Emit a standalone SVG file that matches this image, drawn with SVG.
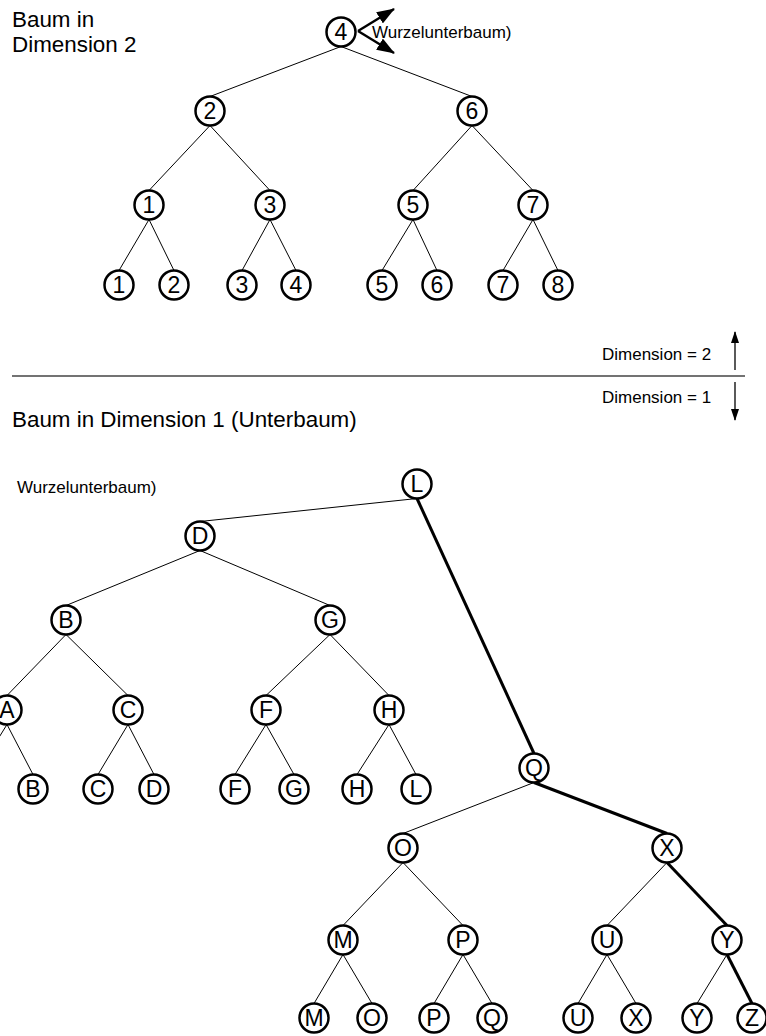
<svg xmlns="http://www.w3.org/2000/svg" width="766" height="1036" viewBox="0 0 766 1036">
  <defs>
    <style>
      .node circle { fill: #fff; stroke: #000; stroke-width: 2.5; }
      .node text { font-family: "Liberation Sans", Arial, sans-serif; font-size: 23px; text-anchor: middle; fill: #000; }
      .edge { stroke: #000; stroke-width: 1; fill: none; }
      .edge.bold { stroke-width: 3; }
      .label { font-family: "Liberation Sans", Arial, sans-serif; fill: #000; }
      .title { font-size: 22.4px; }
      .note { font-size: 17px; }
      .arrow { stroke: #000; fill: none; }
    </style>
    <marker id="headBig" viewBox="0 0 18 13" refX="17" refY="6.5" markerWidth="18" markerHeight="13" markerUnits="userSpaceOnUse" orient="auto">
      <path d="M0,0 L18,6.5 L0,13 Z" fill="#000"/>
    </marker>
    <marker id="headSmall" viewBox="0 0 12 8" refX="11" refY="4" markerWidth="12" markerHeight="8" markerUnits="userSpaceOnUse" orient="auto">
      <path d="M0,0 L12,4 L0,8 Z" fill="#000"/>
    </marker>
  </defs>

  <rect width="766" height="1036" fill="#fff"/>

  <!-- headings and notes -->
  <text class="label title" x="12" y="27">Baum in</text>
  <text class="label title" x="12" y="52">Dimension 2</text>
  <text class="label note" x="372" y="38">Wurzelunterbaum)</text>
  <text class="label note" x="602" y="360">Dimension = 2</text>
  <text class="label note" x="602" y="403">Dimension = 1</text>
  <text class="label title" x="12" y="427">Baum in Dimension 1 (Unterbaum)</text>
  <text class="label note" x="17" y="493">Wurzelunterbaum)</text>

  <!-- separator and direction arrows -->
  <line x1="12" y1="376" x2="745" y2="376" stroke="#444" stroke-width="1.3"/>
  <line class="arrow" x1="735" y1="370" x2="735" y2="332" stroke-width="1.3" marker-end="url(#headSmall)"/>
  <line class="arrow" x1="735" y1="382" x2="735" y2="420" stroke-width="1.3" marker-end="url(#headSmall)"/>

  <!-- root pointer arrows -->
  <line class="arrow" x1="358" y1="31" x2="394" y2="9" stroke-width="2.4" marker-end="url(#headBig)"/>
  <line class="arrow" x1="358" y1="31" x2="394" y2="53" stroke-width="2.4" marker-end="url(#headBig)"/>

  <g id="connectors">
    <!-- dimension 2 tree -->
    <line class="edge" x1="341" y1="46.5" x2="210" y2="96.5"/>
    <line class="edge" x1="341" y1="46.5" x2="472" y2="96.5"/>
    <line class="edge" x1="210" y1="125.5" x2="149" y2="190.5"/>
    <line class="edge" x1="210" y1="125.5" x2="270" y2="190.5"/>
    <line class="edge" x1="472" y1="125.5" x2="413" y2="190.5"/>
    <line class="edge" x1="472" y1="125.5" x2="533" y2="190.5"/>
    <line class="edge" x1="149" y1="219.5" x2="119" y2="270.5"/>
    <line class="edge" x1="149" y1="219.5" x2="174" y2="270.5"/>
    <line class="edge" x1="270" y1="219.5" x2="242" y2="270.5"/>
    <line class="edge" x1="270" y1="219.5" x2="296" y2="270.5"/>
    <line class="edge" x1="413" y1="219.5" x2="382" y2="270.5"/>
    <line class="edge" x1="413" y1="219.5" x2="437" y2="270.5"/>
    <line class="edge" x1="533" y1="219.5" x2="503" y2="270.5"/>
    <line class="edge" x1="533" y1="219.5" x2="558" y2="270.5"/>

    <!-- dimension 1 tree -->
    <line class="edge" x1="417" y1="498.5" x2="200" y2="521.5"/>
    <line class="edge bold" x1="417" y1="498.5" x2="534" y2="753.5"/>
    <line class="edge" x1="200" y1="550.5" x2="66" y2="605.5"/>
    <line class="edge" x1="200" y1="550.5" x2="330" y2="605.5"/>
    <line class="edge" x1="66" y1="634.5" x2="7" y2="695.5"/>
    <line class="edge" x1="66" y1="634.5" x2="128" y2="695.5"/>
    <line class="edge" x1="330" y1="634.5" x2="266" y2="695.5"/>
    <line class="edge" x1="330" y1="634.5" x2="389" y2="695.5"/>
    <line class="edge" x1="7" y1="724.5" x2="-24" y2="774.5"/>
    <line class="edge" x1="7" y1="724.5" x2="33" y2="774.5"/>
    <line class="edge" x1="128" y1="724.5" x2="98" y2="774.5"/>
    <line class="edge" x1="128" y1="724.5" x2="154" y2="774.5"/>
    <line class="edge" x1="266" y1="724.5" x2="235" y2="774.5"/>
    <line class="edge" x1="266" y1="724.5" x2="294" y2="774.5"/>
    <line class="edge" x1="389" y1="724.5" x2="357" y2="774.5"/>
    <line class="edge" x1="389" y1="724.5" x2="416" y2="774.5"/>
    <line class="edge" x1="534" y1="782.5" x2="403" y2="833.5"/>
    <line class="edge bold" x1="534" y1="782.5" x2="667" y2="833.5"/>
    <line class="edge" x1="403" y1="862.5" x2="343" y2="925.5"/>
    <line class="edge" x1="403" y1="862.5" x2="463" y2="925.5"/>
    <line class="edge" x1="667" y1="862.5" x2="607" y2="925.5"/>
    <line class="edge bold" x1="667" y1="862.5" x2="727" y2="925.5"/>
    <line class="edge" x1="343" y1="954.5" x2="314" y2="1003.5"/>
    <line class="edge" x1="343" y1="954.5" x2="372" y2="1003.5"/>
    <line class="edge" x1="463" y1="954.5" x2="434" y2="1003.5"/>
    <line class="edge" x1="463" y1="954.5" x2="492" y2="1003.5"/>
    <line class="edge" x1="607" y1="954.5" x2="578" y2="1003.5"/>
    <line class="edge" x1="607" y1="954.5" x2="636" y2="1003.5"/>
    <line class="edge" x1="727" y1="954.5" x2="697" y2="1003.5"/>
    <line class="edge bold" x1="727" y1="954.5" x2="752" y2="1003.5"/>
  </g>

  <!-- dimension 2 tree nodes -->
  <g id="t4" class="node"><circle cx="341" cy="32" r="14.5"/><text x="341" y="40">4</text></g>
  <g id="t2" class="node"><circle cx="210" cy="111" r="14.5"/><text x="210" y="119">2</text></g>
  <g id="t6" class="node"><circle cx="472" cy="111" r="14.5"/><text x="472" y="119">6</text></g>
  <g id="t1" class="node"><circle cx="149" cy="205" r="14.5"/><text x="149" y="213">1</text></g>
  <g id="t3" class="node"><circle cx="270" cy="205" r="14.5"/><text x="270" y="213">3</text></g>
  <g id="t5" class="node"><circle cx="413" cy="205" r="14.5"/><text x="413" y="213">5</text></g>
  <g id="t7" class="node"><circle cx="533" cy="205" r="14.5"/><text x="533" y="213">7</text></g>
  <g id="tl1" class="node"><circle cx="119" cy="285" r="14.5"/><text x="119" y="293">1</text></g>
  <g id="tl2" class="node"><circle cx="174" cy="285" r="14.5"/><text x="174" y="293">2</text></g>
  <g id="tl3" class="node"><circle cx="242" cy="285" r="14.5"/><text x="242" y="293">3</text></g>
  <g id="tl4" class="node"><circle cx="296" cy="285" r="14.5"/><text x="296" y="293">4</text></g>
  <g id="tl5" class="node"><circle cx="382" cy="285" r="14.5"/><text x="382" y="293">5</text></g>
  <g id="tl6" class="node"><circle cx="437" cy="285" r="14.5"/><text x="437" y="293">6</text></g>
  <g id="tl7" class="node"><circle cx="503" cy="285" r="14.5"/><text x="503" y="293">7</text></g>
  <g id="tl8" class="node"><circle cx="558" cy="285" r="14.5"/><text x="558" y="293">8</text></g>

  <!-- dimension 1 tree nodes -->
  <g id="bL" class="node"><circle cx="417" cy="484" r="14.5"/><text x="417" y="492">L</text></g>
  <g id="bD" class="node"><circle cx="200" cy="536" r="14.5"/><text x="200" y="544">D</text></g>
  <g id="bB" class="node"><circle cx="66" cy="620" r="14.5"/><text x="66" y="628">B</text></g>
  <g id="bG" class="node"><circle cx="330" cy="620" r="14.5"/><text x="330" y="628">G</text></g>
  <g id="bA" class="node"><circle cx="7" cy="710" r="14.5"/><text x="7" y="718">A</text></g>
  <g id="bC" class="node"><circle cx="128" cy="710" r="14.5"/><text x="128" y="718">C</text></g>
  <g id="bF" class="node"><circle cx="266" cy="710" r="14.5"/><text x="266" y="718">F</text></g>
  <g id="bH" class="node"><circle cx="389" cy="710" r="14.5"/><text x="389" y="718">H</text></g>
  <g id="bl-B" class="node"><circle cx="33" cy="789" r="14.5"/><text x="33" y="797">B</text></g>
  <g id="bl-C" class="node"><circle cx="98" cy="789" r="14.5"/><text x="98" y="797">C</text></g>
  <g id="bl-D" class="node"><circle cx="154" cy="789" r="14.5"/><text x="154" y="797">D</text></g>
  <g id="bl-F" class="node"><circle cx="235" cy="789" r="14.5"/><text x="235" y="797">F</text></g>
  <g id="bl-G" class="node"><circle cx="294" cy="789" r="14.5"/><text x="294" y="797">G</text></g>
  <g id="bl-H" class="node"><circle cx="357" cy="789" r="14.5"/><text x="357" y="797">H</text></g>
  <g id="bl-L" class="node"><circle cx="416" cy="789" r="14.5"/><text x="416" y="797">L</text></g>
  <g id="bQ" class="node"><circle cx="534" cy="768" r="14.5"/><text x="534" y="776">Q</text></g>
  <g id="bO" class="node"><circle cx="403" cy="848" r="14.5"/><text x="403" y="856">O</text></g>
  <g id="bX" class="node"><circle cx="667" cy="848" r="14.5"/><text x="667" y="856">X</text></g>
  <g id="bM" class="node"><circle cx="343" cy="940" r="14.5"/><text x="343" y="948">M</text></g>
  <g id="bP" class="node"><circle cx="463" cy="940" r="14.5"/><text x="463" y="948">P</text></g>
  <g id="bU" class="node"><circle cx="607" cy="940" r="14.5"/><text x="607" y="948">U</text></g>
  <g id="bY" class="node"><circle cx="727" cy="940" r="14.5"/><text x="727" y="948">Y</text></g>
  <g id="bl-M" class="node"><circle cx="314" cy="1018" r="14.5"/><text x="314" y="1026">M</text></g>
  <g id="bl-O" class="node"><circle cx="372" cy="1018" r="14.5"/><text x="372" y="1026">O</text></g>
  <g id="bl-P" class="node"><circle cx="434" cy="1018" r="14.5"/><text x="434" y="1026">P</text></g>
  <g id="bl-Q" class="node"><circle cx="492" cy="1018" r="14.5"/><text x="492" y="1026">Q</text></g>
  <g id="bl-U" class="node"><circle cx="578" cy="1018" r="14.5"/><text x="578" y="1026">U</text></g>
  <g id="bl-X" class="node"><circle cx="636" cy="1018" r="14.5"/><text x="636" y="1026">X</text></g>
  <g id="bl-Y" class="node"><circle cx="697" cy="1018" r="14.5"/><text x="697" y="1026">Y</text></g>
  <g id="bl-Z" class="node"><circle cx="752" cy="1018" r="14.5"/><text x="752" y="1026">Z</text></g>
</svg>
